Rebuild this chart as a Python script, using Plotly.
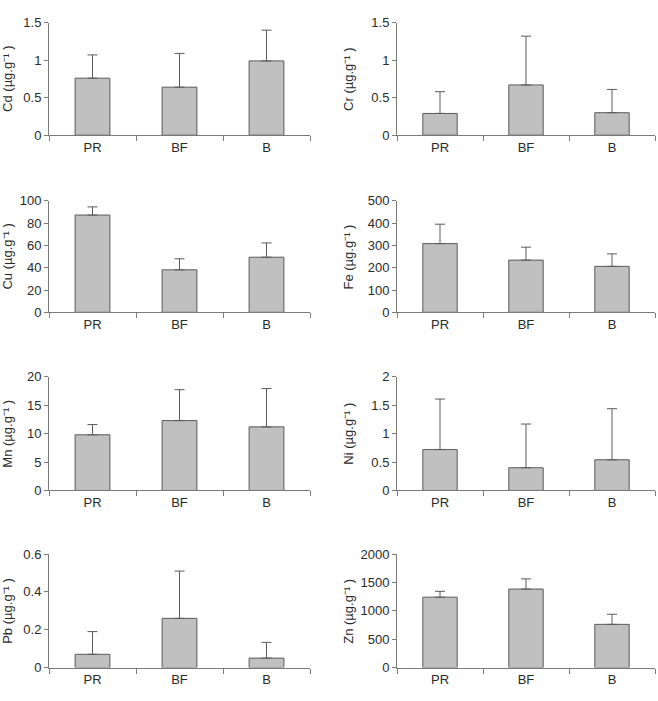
import plotly.graph_objects as go

categories = ["PR", "BF", "B"]

cd_vals = [0.76, 0.64, 0.99]
cd_err = [0.31, 0.45, 0.41]
cr_vals = [0.29, 0.67, 0.30]
cr_err = [0.29, 0.65, 0.31]
cu_vals = [87.2, 38.1, 49.4]
cu_err = [7.3, 9.9, 12.8]
fe_vals = [308, 234, 206]
fe_err = [87, 58, 56]
mn_vals = [9.8, 12.3, 11.2]
mn_err = [1.8, 5.45, 6.75]
ni_vals = [0.72, 0.40, 0.54]
ni_err = [0.89, 0.77, 0.90]
pb_vals = [0.07, 0.26, 0.05]
pb_err = [0.12, 0.25, 0.083]
zn_vals = [1240, 1383, 761]
zn_err = [103, 179, 178]

panels = [
    ("Cd", cd_vals, cd_err, [0, 1.5], [0, 0.5, 1, 1.5], ["0", "0.5", "1", "1.5"]),
    ("Cr", cr_vals, cr_err, [0, 1.5], [0, 0.5, 1, 1.5], ["0", "0.5", "1", "1.5"]),
    ("Cu", cu_vals, cu_err, [0, 100], [0, 20, 40, 60, 80, 100], None),
    ("Fe", fe_vals, fe_err, [0, 500], [0, 100, 200, 300, 400, 500], None),
    ("Mn", mn_vals, mn_err, [0, 20], [0, 5, 10, 15, 20], None),
    ("Ni", ni_vals, ni_err, [0, 2], [0, 0.5, 1, 1.5, 2], ["0", "0.5", "1", "1.5", "2"]),
    ("Pb", pb_vals, pb_err, [0, 0.6], [0, 0.2, 0.4, 0.6], ["0", "0.2", "0.4", "0.6"]),
    ("Zn", zn_vals, zn_err, [0, 2000], [0, 500, 1000, 1500, 2000], None),
]

W, H = 658, 701
rows_px = [(16, 131), (198, 312), (378, 494), (559, 675)]
cols_px = [(49, 310), (397, 655)]
title_x_px = [8, 349]

FONT = "Arial, Liberation Sans, sans-serif"
AXIS_COLOR = "#7a7a7a"
TEXT_COLOR = "#2a2a2a"

fig = go.Figure()
layout = dict(
    width=W, height=H,
    margin=dict(l=0, r=0, t=0, b=0),
    paper_bgcolor="white", plot_bgcolor="white",
    showlegend=False,
    font=dict(family=FONT, size=13, color=TEXT_COLOR),
    annotations=[],
)

for i, (name, vals, errs, yr, tv, tt) in enumerate(panels):
    r, c = divmod(i, 2)
    n = i + 1
    xa = "x" if n == 1 else f"x{n}"
    ya = "y" if n == 1 else f"y{n}"
    fig.add_trace(go.Bar(
        x=categories, y=vals, xaxis=xa, yaxis=ya, width=0.4,
        marker=dict(color="#c0c0c0", line=dict(color="#5a5a5a", width=1)),
        error_y=dict(type="data", array=errs, arrayminus=[0] * len(errs),
                     symmetric=False, color="#5a5a5a", thickness=1, width=5),
    ))
    top, bot = rows_px[r]
    left, right = cols_px[c]
    xkey = "xaxis" if n == 1 else f"xaxis{n}"
    ykey = "yaxis" if n == 1 else f"yaxis{n}"
    layout[xkey] = dict(
        domain=[left / W, right / W], anchor=ya, type="category",
        range=[-0.5, 2.5], showline=True, linecolor=AXIS_COLOR, linewidth=1,
        ticks="outside", tickson="boundaries", ticklen=5, tickcolor=AXIS_COLOR,
        showgrid=False, zeroline=False, fixedrange=True,
        tickfont=dict(family=FONT, size=13, color=TEXT_COLOR),
    )
    ydict = dict(
        domain=[1 - bot / H, 1 - top / H], anchor=xa, range=yr,
        tickvals=tv, showline=True, linecolor=AXIS_COLOR, linewidth=1,
        ticks="outside", ticklen=4, tickcolor=AXIS_COLOR,
        showgrid=False, zeroline=False, fixedrange=True,
        tickfont=dict(family=FONT, size=13, color=TEXT_COLOR),
    )
    if tt is not None:
        ydict["ticktext"] = tt
    layout[ykey] = ydict
    layout["annotations"].append(dict(
        text=f"{name} (µg.g⁻¹ )", textangle=-90,
        x=title_x_px[c] / W, y=1 - (top + bot) / 2 / H,
        xref="paper", yref="paper", xanchor="center", yanchor="middle",
        showarrow=False, font=dict(family=FONT, size=13, color=TEXT_COLOR),
    ))

fig.update_layout(**layout)
fig.write_html("out.html")
